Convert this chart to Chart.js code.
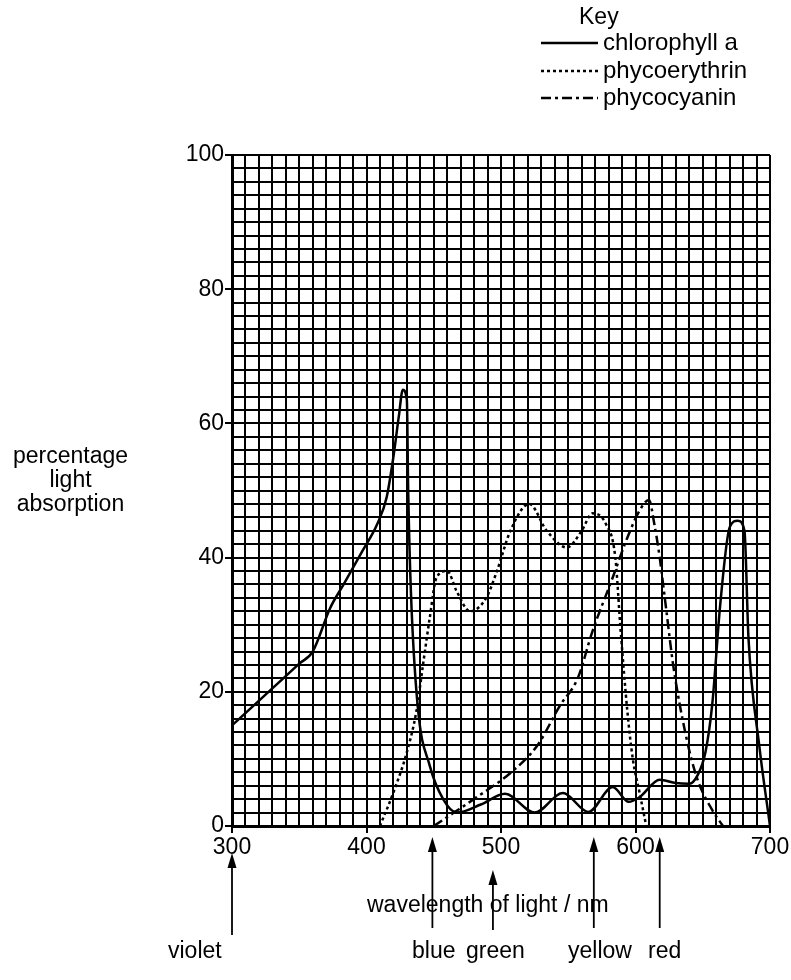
<!DOCTYPE html>
<html>
<head>
<meta charset="utf-8">
<script src="https://cdn.jsdelivr.net/npm/chart.js"></script>
<style>
  body { margin: 0; background: #fff; }
  #wrap { position: relative; width: 791px; height: 980px; }
  .t { position: absolute; font-family: "Liberation Sans", Arial, sans-serif; font-size: 23px; color: #000; white-space: nowrap; line-height: 1; }
  .k { font-size: 24px; }
</style>
</head>
<body>
<div id="wrap">
  <canvas id="myChart" width="791" height="980"></canvas>
  <div class="t" style="left:579px;top:5px">Key</div>
  <div class="t k" style="left:603px;top:30px">chlorophyll a</div>
  <div class="t k" style="left:603px;top:58px">phycoerythrin</div>
  <div class="t k" style="left:603px;top:85px">phycocyanin</div>
  <div class="t" style="left:8px;top:443px;width:125px;text-align:center;line-height:24px">percentage<br>light<br>absorption</div>
  <div class="t" style="left:367px;top:893px">wavelength of light / nm</div>
  <div class="t" style="left:168px;top:939px">violet</div>
  <div class="t" style="left:412px;top:939px">blue</div>
  <div class="t" style="left:466px;top:939px">green</div>
  <div class="t" style="left:568px;top:939px">yellow</div>
  <div class="t" style="left:648px;top:939px">red</div>
</div>
<script type="text/javascript">
// chlorophyll a (solid)
var chlNm  = [300, 330, 350, 360, 373, 383, 397, 408, 415, 420, 424, 427, 430, 431, 433, 438, 447, 457, 467, 485, 503, 525, 546, 565, 583, 595, 603, 618, 630, 640, 646, 652, 657, 663, 670, 676, 681, 684, 692, 700];
var chlAbs = [15, 20.5, 24.2, 26, 32.5, 36, 41, 45, 49, 55, 61, 65, 63.5, 50, 35, 18, 9, 4, 2, 3.2, 4.8, 2, 4.9, 2.1, 5.8, 3.6, 4.3, 6.9, 6.4, 6.3, 7.5, 11, 18, 33, 44.5, 45.5, 44, 28, 12, 0];

// phycoerythrin (dotted)
var eryNm  = [410, 420, 430, 437, 442, 447, 452, 460, 467, 477, 489, 497, 507, 521, 534, 549, 560, 568, 578, 585, 589, 594, 598, 603, 608];
var eryAbs = [0, 5, 11, 17, 24, 31, 37, 38, 35, 32, 34, 38, 44, 48, 44, 41.5, 44, 46.6, 45, 40, 29, 17, 10, 5, 0];

// phycocyanin (dash-dot)
var cyaNm  = [450, 465, 482, 507, 527, 544, 557, 568, 583, 594, 603, 610, 614, 618, 623, 628, 638, 646, 657, 665];
var cyaAbs = [0, 2, 4.3, 7.9, 12, 18, 22, 29, 37, 43, 47, 48.6, 45, 40, 32, 24, 13, 7, 2.4, 0];

// colour arrows under the axis (wavelength)
var arrowNm = [300, 449, 494, 569, 618];

var xTicks = [300, 400, 500, 600, 700];
var yTicks = [0, 20, 40, 60, 80, 100];

function pts(xs, ys) {
  return xs.map(function (x, i) { return { x: x, y: ys[i] }; });
}

var dotted = [3, 3];
var dashDot = [10, 4, 3, 4];

var extras = {
  id: 'extras',
  afterDraw: function (chart) {
    var ctx = chart.ctx;
    var xs = chart.scales.x;
    ctx.save();
    ctx.strokeStyle = '#000';
    ctx.fillStyle = '#000';
    ctx.lineWidth = 2.5;
    // key samples
    var keyY = [43, 71, 98];
    var dashes = [[], dotted, dashDot];
    for (var i = 0; i < 3; i++) {
      ctx.setLineDash(dashes[i]);
      ctx.beginPath();
      ctx.moveTo(541, keyY[i]);
      ctx.lineTo(598, keyY[i]);
      ctx.stroke();
    }
    ctx.setLineDash([]);
    // arrows
    var tops = [853, 837, 870, 837, 837];
    var bottoms = [935, 928, 930, 928, 928];
    ctx.lineWidth = 1.8;
    arrowNm.forEach(function (nm, i) {
      var px = xs.getPixelForValue(nm);
      ctx.beginPath();
      ctx.moveTo(px, tops[i] + 10);
      ctx.lineTo(px, bottoms[i]);
      ctx.stroke();
      ctx.beginPath();
      ctx.moveTo(px, tops[i]);
      ctx.lineTo(px - 4.5, tops[i] + 15);
      ctx.lineTo(px + 4.5, tops[i] + 15);
      ctx.closePath();
      ctx.fill();
    });
    ctx.restore();
  }
};

var config = {
  type: 'line',
  data: {
    datasets: [{
      label: 'chlorophyll a',
      data: pts(chlNm, chlAbs),
      borderColor: '#000',
      borderWidth: 2.5,
      pointRadius: 0,
      cubicInterpolationMode: 'monotone'
    }, {
      label: 'phycoerythrin',
      data: pts(eryNm, eryAbs),
      borderColor: '#000',
      borderWidth: 2.5,
      borderDash: dotted,
      pointRadius: 0,
      cubicInterpolationMode: 'monotone'
    }, {
      label: 'phycocyanin',
      data: pts(cyaNm, cyaAbs),
      borderColor: '#000',
      borderWidth: 2.5,
      borderDash: dashDot,
      pointRadius: 0,
      cubicInterpolationMode: 'monotone'
    }]
  },
  options: {
    responsive: false,
    animation: false,
    devicePixelRatio: 1,
    layout: { padding: { top: 155, right: 21, left: 0, bottom: 0 } },
    plugins: {
      legend: { display: false },
      tooltip: { enabled: false }
    },
    scales: {
      x: {
        type: 'linear',
        min: 300,
        max: 700,
        afterFit: function (scale) { scale.height = 154; },
        ticks: {
          stepSize: 10,
          autoSkip: false,
          maxRotation: 0,
          minRotation: 0,
          color: '#000',
          padding: 1,
          font: { family: 'Liberation Sans', size: 23 },
          callback: function (v) { return xTicks.indexOf(v) >= 0 ? String(v) : ''; }
        },
        grid: {
          color: '#000',
          lineWidth: 2,
          tickLength: 7,
          tickColor: function (c) { return c.tick && xTicks.indexOf(c.tick.value) >= 0 ? '#000' : 'rgba(0,0,0,0)'; }
        },
        border: { color: '#000', width: 3 }
      },
      y: {
        min: 0,
        max: 100,
        afterFit: function (scale) { scale.width = 232; },
        ticks: {
          stepSize: 2,
          autoSkip: false,
          color: '#000',
          padding: 1,
          font: { family: 'Liberation Sans', size: 23 },
          callback: function (v) { return yTicks.indexOf(v) >= 0 ? String(v) : ''; }
        },
        grid: {
          color: '#000',
          lineWidth: 2,
          tickLength: 7,
          tickColor: function (c) { return c.tick && yTicks.indexOf(c.tick.value) >= 0 ? '#000' : 'rgba(0,0,0,0)'; }
        },
        border: { color: '#000', width: 3 }
      }
    }
  },
  plugins: [extras]
};

var myChart = new Chart(document.getElementById('myChart'), config);
</script>
</body>
</html>
